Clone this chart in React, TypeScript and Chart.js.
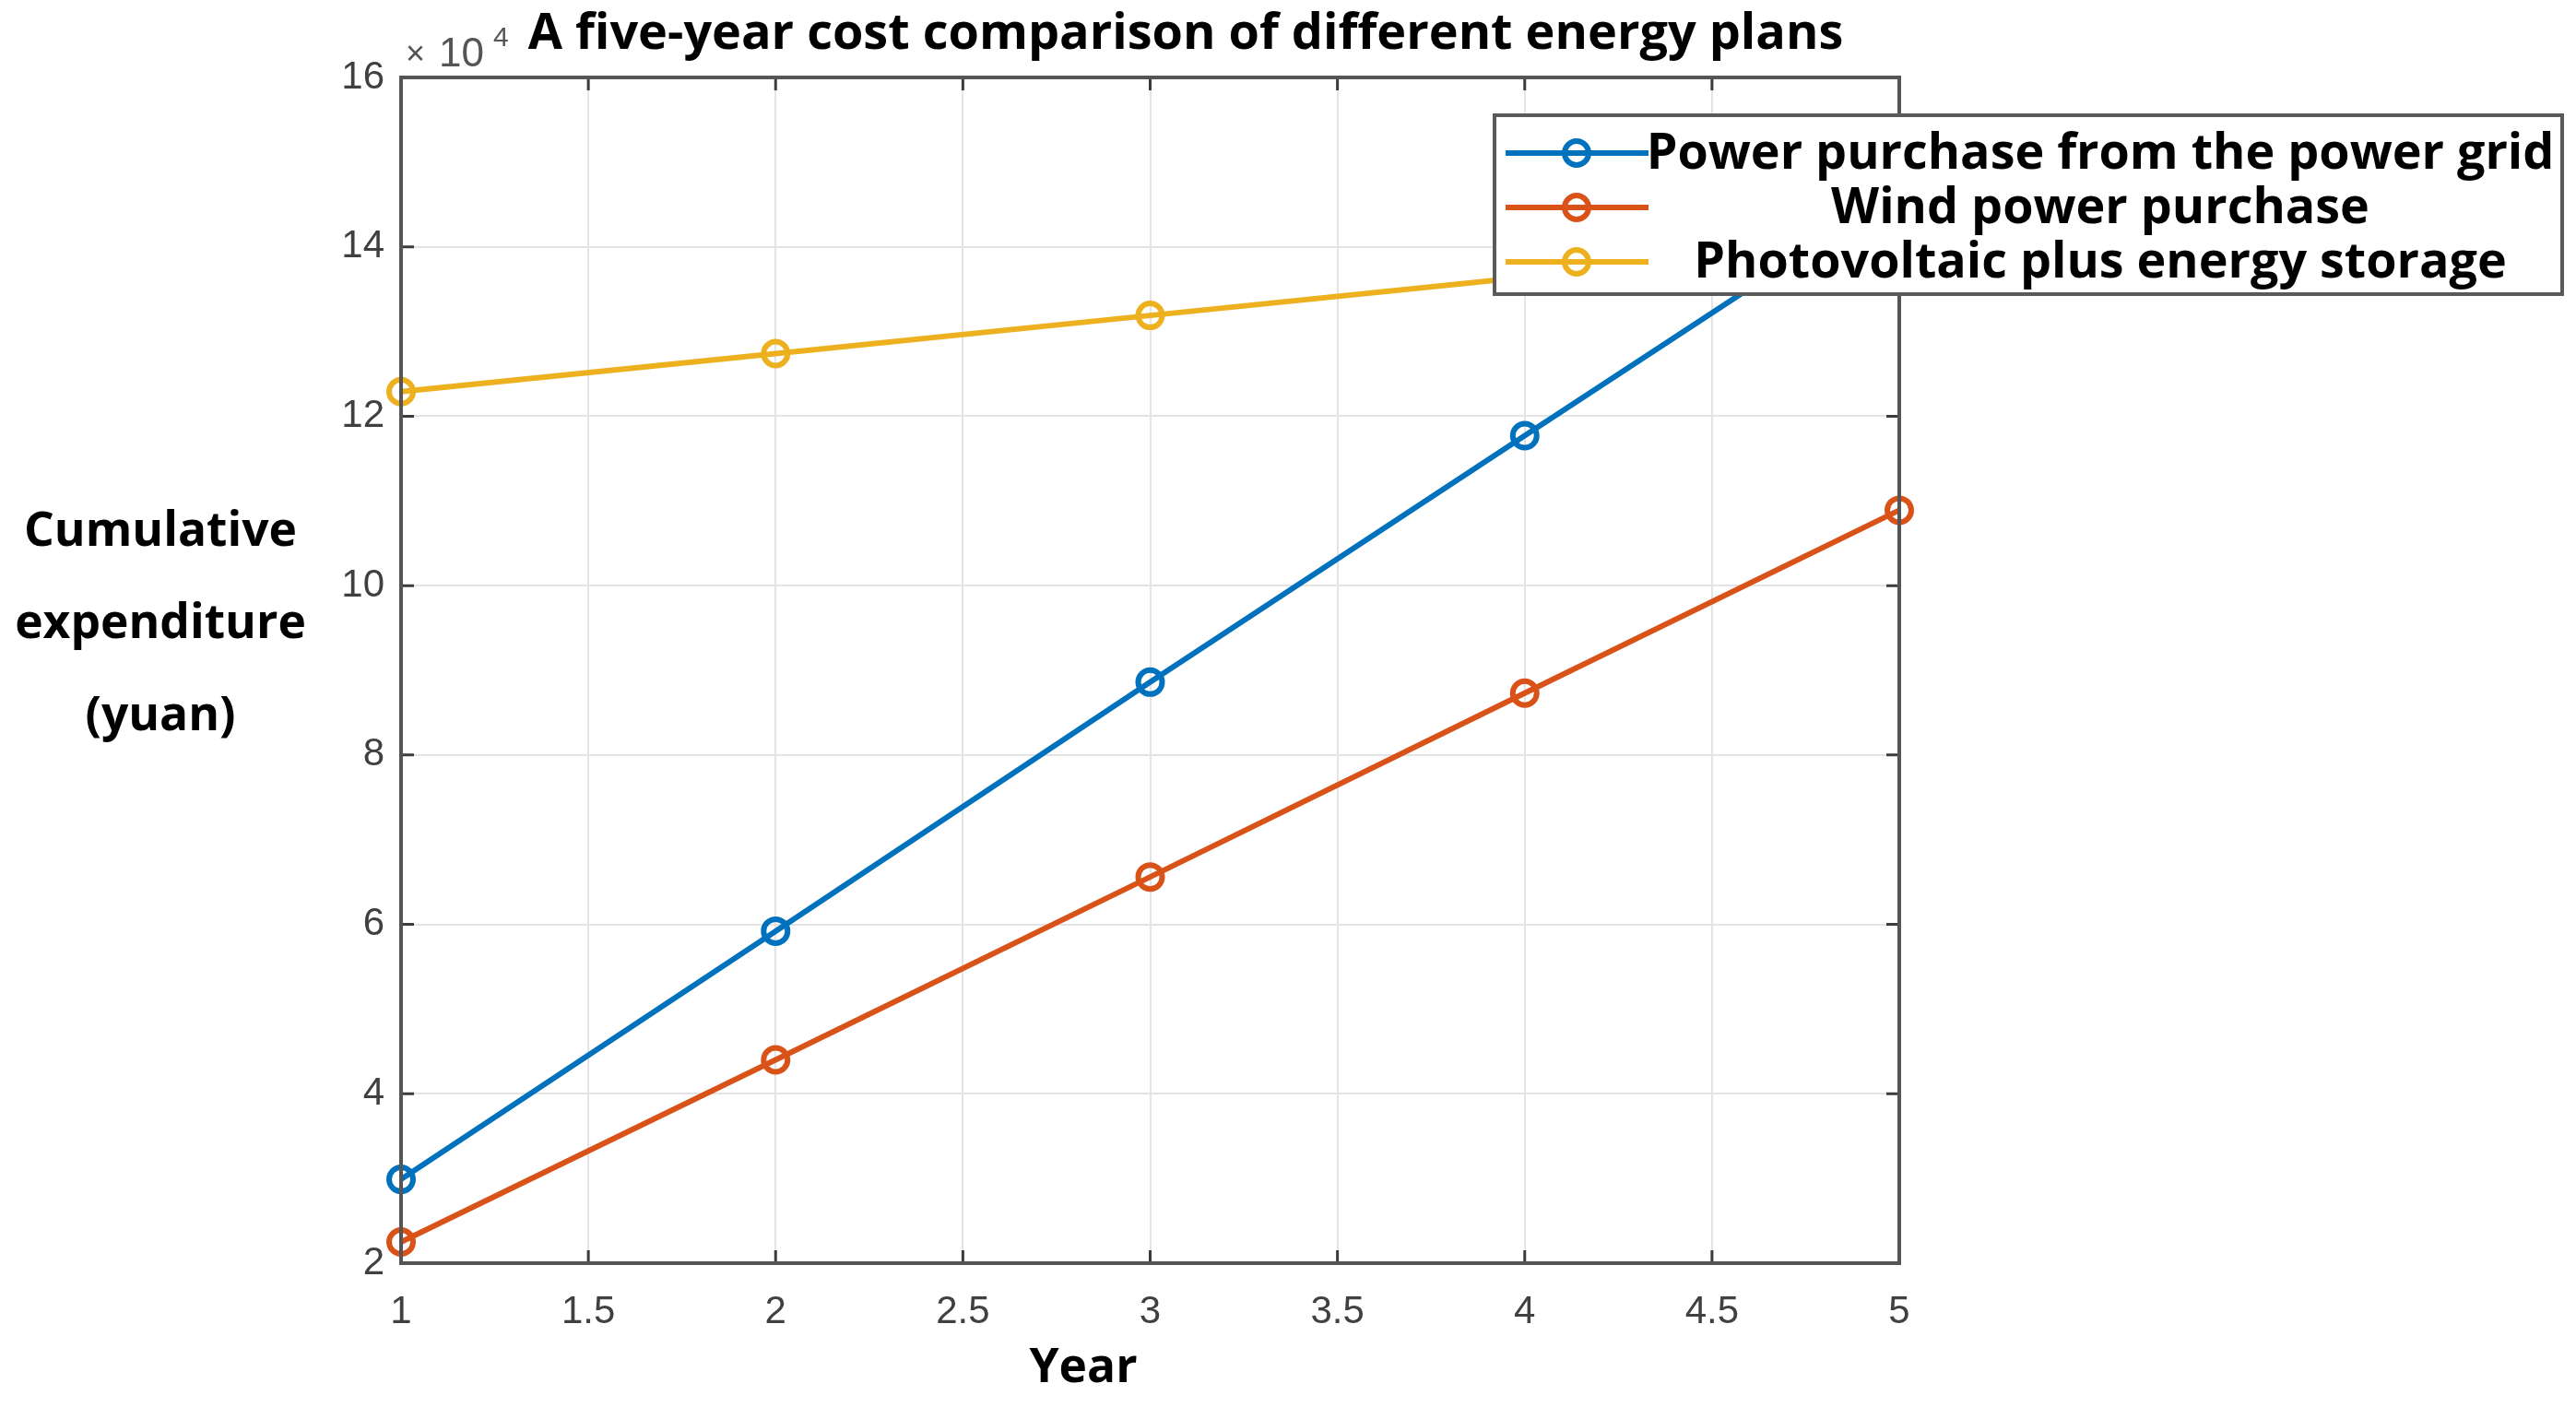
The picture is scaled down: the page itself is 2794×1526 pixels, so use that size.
import React, { useEffect, useRef } from "react";
import { Chart, registerables } from "chart.js";

Chart.register(...registerables);

// data (yuan)
const years = [1, 2, 3, 4, 5];
const gridPurchase = [29900, 59200, 88600, 117700, 146700];
const windPurchase = [22500, 44000, 65600, 87300, 108900];
const pvStorage = [122900, 127400, 131900, 136400, 140900];

const seriesLabels = [
  "Power purchase from the power grid",
  "Wind power purchase",
  "Photovoltaic plus energy storage",
];
const seriesColors = ["#0072BD", "#D95319", "#EDB120"];

const xTickValues = [1, 1.5, 2, 2.5, 3, 3.5, 4, 4.5, 5];
const yTickValues = [20000, 40000, 60000, 80000, 100000, 120000, 140000, 160000];

const titleText = "A five-year cost comparison of different energy plans";
const yTitleLines = ["Cumulative", "expenditure", "(yuan)"];
const xTitleText = "Year";

const W = 2794;
const H = 1526;
const BOLD = "'Open Sans', 'Noto Sans', sans-serif";
const TICK_FONT = "'Liberation Sans', Arial, sans-serif";

// pick a bold font size so the text fills a given width
const fitFont = (ctx: CanvasRenderingContext2D, text: string, target: number) => {
  ctx.font = `bold 40px ${BOLD}`;
  const w = ctx.measureText(text).width;
  const size = (40 * target) / w;
  ctx.font = `bold ${size}px ${BOLD}`;
  return size;
};

const matlabPlugin = {
  id: "matlabDecor",
  afterDatasetsDraw(chart: any) {
    const { ctx, chartArea } = chart;
    const { left, right, top, bottom } = chartArea;
    const xs = chart.scales.x;
    const ys = chart.scales.y;
    ctx.save();
    ctx.strokeStyle = "#3c3c3c";
    ctx.lineWidth = 3;
    // inward ticks
    xTickValues.forEach((v) => {
      const px = xs.getPixelForValue(v);
      ctx.beginPath();
      ctx.moveTo(px, bottom);
      ctx.lineTo(px, bottom - 14);
      ctx.moveTo(px, top);
      ctx.lineTo(px, top + 14);
      ctx.stroke();
    });
    yTickValues.forEach((v) => {
      const py = ys.getPixelForValue(v);
      ctx.beginPath();
      ctx.moveTo(left, py);
      ctx.lineTo(left + 14, py);
      ctx.moveTo(right, py);
      ctx.lineTo(right - 14, py);
      ctx.stroke();
    });
    // box
    ctx.strokeStyle = "#555555";
    ctx.lineWidth = 4;
    ctx.strokeRect(left, top, right - left, bottom - top);
    ctx.restore();
  },
  afterDraw(chart: any) {
    const { ctx } = chart;
    ctx.save();

    // title
    ctx.textBaseline = "middle";
    ctx.fillStyle = "#000";
    ctx.textAlign = "center";
    fitFont(ctx, titleText, 1427);
    ctx.fillText(titleText, 1286, 38);

    // exponent
    ctx.fillStyle = "#555555";
    ctx.textAlign = "left";
    ctx.textBaseline = "alphabetic";
    ctx.font = `36px ${TICK_FONT}`;
    ctx.fillText("\u00d7", 440, 70);
    ctx.font = `44px ${TICK_FONT}`;
    ctx.fillText("10", 476, 72);
    ctx.font = `30px ${TICK_FONT}`;
    ctx.fillText("4", 535, 50);

    // axis titles
    ctx.textBaseline = "middle";
    ctx.fillStyle = "#000";
    ctx.textAlign = "center";
    const ts = fitFont(ctx, yTitleLines[0], 296);
    yTitleLines.forEach((line, i) => {
      ctx.fillText(line, 174, 577 + i * 100);
    });
    ctx.font = `bold ${ts}px ${BOLD}`;
    ctx.fillText(xTitleText, 1175, 1484);

    // legend
    const lx = 1621;
    const ly = 125;
    const lw = 1158;
    const lh = 194;
    ctx.fillStyle = "#fff";
    ctx.fillRect(lx, ly, lw, lh);
    ctx.strokeStyle = "#5a5a5a";
    ctx.lineWidth = 4;
    ctx.strokeRect(lx, ly, lw, lh);
    const size = fitFont(ctx, seriesLabels[0], 985);
    seriesLabels.forEach((label, i) => {
      const ry = 166 + i * 59;
      ctx.strokeStyle = seriesColors[i];
      ctx.lineWidth = 6;
      ctx.beginPath();
      ctx.moveTo(1633, ry);
      ctx.lineTo(1788, ry);
      ctx.stroke();
      ctx.beginPath();
      ctx.arc(1710, ry, 13, 0, Math.PI * 2);
      ctx.stroke();
      ctx.fillStyle = "#000";
      ctx.font = `bold ${size}px ${BOLD}`;
      ctx.textAlign = "center";
      ctx.fillText(label, 2278, ry + 2);
    });
    ctx.restore();
  },
};

const App = () => {
  const chartRef = useRef<HTMLCanvasElement | null>(null);

  useEffect(() => {
    if (!chartRef.current) return;
    const ctx = chartRef.current.getContext("2d");
    if (!ctx) return;

    const seriesValues = [gridPurchase, windPurchase, pvStorage];
    const chart = new Chart(ctx, {
      type: "line",
      data: {
        datasets: seriesValues.map((vals, i) => ({
          label: seriesLabels[i],
          data: years.map((x, j) => ({ x, y: vals[j] })),
          borderColor: seriesColors[i],
          backgroundColor: "transparent",
          borderWidth: 6,
          pointRadius: 13,
          pointBorderWidth: 6,
          pointBackgroundColor: "transparent",
          pointBorderColor: seriesColors[i],
          tension: 0,
          clip: false as any,
        })),
      },
      options: {
        animation: false,
        responsive: true,
        maintainAspectRatio: false,
        events: [],
        layout: { padding: { left: 315, right: W - 2060, top: 84, bottom: 0 } },
        plugins: {
          legend: { display: false },
          tooltip: { enabled: false },
          title: { display: false },
        },
        scales: {
          x: {
            type: "linear",
            min: 1,
            max: 5,
            afterBuildTicks: (s: any) => {
              s.ticks = xTickValues.map((value) => ({ value }));
            },
            afterFit: (s: any) => {
              s.height = H - 1370;
            },
            grid: { color: "#e4e4e4", lineWidth: 2, drawTicks: false },
            border: { display: false },
            ticks: {
              padding: 28,
              color: "#404040",
              font: { family: TICK_FONT, size: 42 },
              maxRotation: 0,
              autoSkip: false,
              callback: (v: any) => String(Number(v)),
            },
          },
          y: {
            type: "linear",
            min: 20000,
            max: 160000,
            afterBuildTicks: (s: any) => {
              s.ticks = yTickValues.map((value) => ({ value }));
            },
            afterFit: (s: any) => {
              s.width = 120;
            },
            grid: { color: "#e4e4e4", lineWidth: 2, drawTicks: false },
            border: { display: false },
            ticks: {
              padding: 18,
              color: "#404040",
              font: { family: TICK_FONT, size: 42 },
              callback: (v: any) => String(Number(v) / 10000),
            },
          },
        },
      },
      plugins: [matlabPlugin],
    });

    return () => {
      chart.destroy();
    };
  }, []);

  return (
    <div style={{ position: "absolute", left: 0, top: 0, width: W, height: H, background: "#fff" }}>
      <canvas ref={chartRef} />
    </div>
  );
};

export default App;
